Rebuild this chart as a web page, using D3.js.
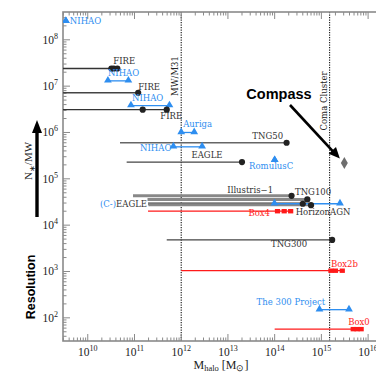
<!DOCTYPE html>
<html>
<head>
<meta charset="utf-8">
<script src="https://cdn.jsdelivr.net/npm/d3@7"></script>
<style>
  html, body { margin: 0; padding: 0; background: #fff; }
  svg { display: block; }
  .lbl { font-family: "DejaVu Serif", serif; font-size: 8.5px; }
  .tick { font-family: "Liberation Serif", serif; font-size: 11.5px; fill: #222; }
</style>
</head>
<body>
<svg id="chart" width="376" height="373"></svg>
<script>
// ---- Simulation data: halo mass [Msun] vs particles per Milky-Way halo ----

// Zoom-in suites (blue triangles; a single halo or a mass range)
const zoomIds    = ["nihao0", "nihao1", "nihao2", "nihao3", "auriga", "romulusc", "ceagle", "the300"];
const zoomNames  = ["NIHAO", "NIHAO", "NIHAO", "NIHAO", "Auriga", "RomulusC", "(C-)", "The 300 Project"];
const zoomMassLo = [3.4e9, 2.7e10, 8.4e10, 6.8e11, 1.0e12, 1.0e14, 9.9e13, 9.1e14];
const zoomMassHi = [3.4e9, 7.4e10, 5.6e11, 2.8e12, 1.9e12, 1.0e14, 2.5e15, 3.9e15];
const zoomN      = [2.5e8, 1.3e7, 3.8e6, 4.9e5, 1.0e6, 2.5e5, 2.9e4, 1.5e2];

// Cosmological boxes and FIRE haloes (line from the smallest resolved halo to the largest, dots)
const runIds    = ["fire0", "fire1", "fire2", "tng50", "eagle25", "illustris", "tng100", "eagle100", "horizon", "tng300"];
const runNames  = ["FIRE", "FIRE", "FIRE", "TNG50", "EAGLE", "Illustris\u22121", "TNG100", "EAGLE", "HorizonAGN", "TNG300"];
const runMassLo = [1.0e9, 1.0e9, 1.0e9, 4.9e10, 6.8e10, 9.3e10, 1.9e11, 1.95e11, 2.0e11, 4.9e11];
const runHaloes = [[3.2e10, 3.6e10, 4.3e10], [1.2e11], [1.5e11, 4.9e11], [1.8e14], [2.0e13],
                   [2.3e14], [5.0e14], [4.0e14], [6.0e14], [1.7e15]];
const runN      = [2.4e7, 7.2e6, 3.1e6, 6.0e5, 2.3e5, 4.3e4, 3.6e4, 2.9e4, 2.7e4, 4.8e3];

// Compass boxes (red: mass range line, squares for the most massive clusters)
const boxNames    = ["Box4", "Box2b", "Box0"];
const boxMassLo   = [1.95e11, 1.0e12, 1.0e14];
const boxClusters = [[1.15e14, 1.6e14, 2.2e14], [1.6e15, 2.0e15, 2.8e15], [4.8e15, 5.8e15, 7.1e15]];
const boxN        = [2.0e4, 1.04e3, 57];

// Compass zoom target
const compassMass = 3.1e15;
const compassN    = 2.2e5;

// Reference haloes (vertical dotted lines)
const refNames = ["MW/M31", "Coma Cluster"];
const refMass  = [1e12, 1.5e15];

// Axis decades
const xDecades = [10, 11, 12, 13, 14, 15, 16];
const yDecades = [2, 3, 4, 5, 6, 7, 8];

// ---- Layout & style ----
const plot = { left: 63, right: 391, top: 12, bottom: 341 };
const blue = "#2e8ef0", red = "#ff1a1a";

const runStyle = {
  fire0: { c: "#333", w: 1.4 }, fire1: { c: "#444", w: 1.6 }, fire2: { c: "#333", w: 1.3 },
  tng50: { c: "#666", w: 1.4 }, eagle25: { c: "#444", w: 1.2 },
  illustris: { c: "#888", w: 3 }, tng100: { c: "#888", w: 3 },
  eagle100: { c: "#777", w: 3 }, horizon: { c: "#888", w: 2 },
  tng300: { c: "#444", w: 1.2 }
};
const runLabel = {
  fire0: { dx: -4, dy: -7.3, a: "start" }, fire1: { dx: 0, dy: -5.7, a: "start" },
  fire2: { dx: -6.5, dy: 7, a: "start" }, tng50: { dx: -3.5, dy: -6.7, a: "end" },
  eagle25: { dx: -19.5, dy: -6.3, a: "end" }, illustris: { dx: -18.5, dy: -5.3, a: "end" },
  tng100: { dx: -12.3, dy: -6.8, a: "start" }, horizon: { dx: -15.3, dy: 7.7, a: "start" },
  tng300: { dx: -25, dy: 5, a: "end" }
};
const zoomLabel = {
  nihao0: { dx: 4, dy: 0.5, a: "start" }, nihao1: { dx: 0, dy: -7, a: "start" },
  nihao2: { dx: 1, dy: -7.5, a: "start" }, nihao3: { dx: -2, dy: 1.3, a: "end" },
  auriga: { dx: 2, dy: -7.5, a: "start" }, romulusc: { dx: -3.5, dy: 6.5, a: "middle" },
  the300: { dx: 5.7, dy: -7, a: "end" }
};
const boxLabel = [
  { dx: -7.5, dy: 2, a: "end" }, { dx: 0, dy: -6.7, a: "start" }, { dx: -5, dy: -7, a: "start" }
];

const svg = d3.select("#chart");
svg.append("rect").attr("width", 376).attr("height", 373).attr("fill", "#fff");

const x = d3.scaleLog().domain([Math.pow(10, 9.47), Math.pow(10, 16.49)]).range([plot.left, plot.right]);
const y = d3.scaleLog().domain([Math.pow(10, 1.5), Math.pow(10, 8.6)]).range([plot.bottom, plot.top]);

svg.append("clipPath").attr("id", "clip").append("rect")
  .attr("x", plot.left).attr("y", plot.top)
  .attr("width", plot.right - plot.left).attr("height", plot.bottom - plot.top);

const g = svg.append("g").attr("clip-path", "url(#clip)");

// Reference vertical lines
refMass.forEach(m => {
  g.append("line").attr("x1", x(m)).attr("x2", x(m)).attr("y1", plot.top).attr("y2", plot.bottom)
    .attr("stroke", "#111").attr("stroke-width", 1.1).attr("stroke-dasharray", "1.2,1.3");
});

// Ticks (log minor ticks 2..9 plus decades)
const axisCol = "#8a8a8a";
function logTicks(scale) {
  const [d0, d1] = scale.domain().map(Math.log10);
  const out = [];
  for (let e = Math.floor(d0); e <= Math.ceil(d1); e++) {
    for (let k = 1; k <= 9; k++) {
      const v = k * Math.pow(10, e);
      const lv = Math.log10(v);
      if (lv >= d0 && lv <= d1) out.push({ v, major: k === 1 });
    }
  }
  return out;
}
const ax = svg.append("g");
logTicks(x).forEach(t => {
  const len = t.major ? 7 : 3.5;
  ax.append("line").attr("x1", x(t.v)).attr("x2", x(t.v))
    .attr("y1", plot.bottom).attr("y2", plot.bottom - len).attr("stroke", axisCol).attr("stroke-width", 1);
  ax.append("line").attr("x1", x(t.v)).attr("x2", x(t.v))
    .attr("y1", plot.top).attr("y2", plot.top + len).attr("stroke", axisCol).attr("stroke-width", 1);
});
logTicks(y).forEach(t => {
  const len = t.major ? 7 : 3.5;
  ax.append("line").attr("x1", plot.left).attr("x2", plot.left + len)
    .attr("y1", y(t.v)).attr("y2", y(t.v)).attr("stroke", axisCol).attr("stroke-width", 1);
});
// Frame
ax.append("rect").attr("x", plot.left).attr("y", plot.top)
  .attr("width", plot.right - plot.left).attr("height", plot.bottom - plot.top)
  .attr("fill", "none").attr("stroke", axisCol).attr("stroke-width", 1.6);

// Tick labels
xDecades.forEach(e => {
  const t = svg.append("text").attr("class", "tick").attr("x", x(Math.pow(10, e))).attr("y", 356)
    .attr("text-anchor", "middle");
  t.append("tspan").text("10");
  t.append("tspan").attr("dy", -5).attr("font-size", "8px").text(e);
});
yDecades.forEach(e => {
  const t = svg.append("text").attr("class", "tick").attr("x", 58).attr("y", y(Math.pow(10, e)) + 4)
    .attr("text-anchor", "end");
  t.append("tspan").text("10");
  t.append("tspan").attr("dy", -5).attr("font-size", "8px").text(e);
});

// Axis titles
const xt = svg.append("text").attr("x", 221).attr("y", 369).attr("text-anchor", "middle")
  .attr("font-family", "Liberation Serif, serif").attr("font-size", "12px").attr("fill", "#222");
xt.append("tspan").text("M");
xt.append("tspan").attr("dy", 2).attr("font-size", "8.5px").text("halo");
xt.append("tspan").attr("dy", -2).text(" [M");
xt.append("tspan").attr("dy", 2).attr("font-size", "8.5px").text("\u2299");
xt.append("tspan").attr("dy", -2).text("]");

const yt = svg.append("text").attr("transform", "translate(32,161) rotate(-90)").attr("text-anchor", "middle")
  .attr("font-family", "Liberation Serif, serif").attr("font-size", "11px").attr("fill", "#222");
yt.append("tspan").text("N");
yt.append("tspan").attr("dy", 2.5).attr("font-size", "8px").text("\u2217");
yt.append("tspan").attr("dy", -2.5).text("/MW");

svg.append("text").attr("transform", "translate(35,287) rotate(-90)").attr("text-anchor", "middle")
  .attr("font-family", "Liberation Sans, Arial, sans-serif").attr("font-weight", "bold")
  .attr("font-size", "12.5px").attr("fill", "#000").text("Resolution");

// Resolution arrow
svg.append("line").attr("x1", 37).attr("x2", 37).attr("y1", 217).attr("y2", 130)
  .attr("stroke", "#000").attr("stroke-width", 3.4);
svg.append("path").attr("d", "M37,120 L42,133 L32,133 Z").attr("fill", "#000");

// Reference line labels
svg.append("text").attr("transform", `translate(${x(refMass[0]) - 3},76) rotate(-90)`).attr("text-anchor", "middle")
  .attr("class", "lbl").attr("fill", "#222").text(refNames[0]);
svg.append("text").attr("transform", `translate(${x(refMass[1]) - 3},101) rotate(-90)`).attr("text-anchor", "middle")
  .attr("class", "lbl").attr("fill", "#222").text(refNames[1]);

const marks = svg.append("g").attr("clip-path", "url(#clip)");
const tri = d3.symbol(d3.symbolTriangle, 26);

// Cosmological runs
runIds.forEach((id, i) => {
  const st = runStyle[id];
  const hi = d3.max(runHaloes[i]);
  marks.append("line").attr("x1", x(runMassLo[i])).attr("x2", x(hi))
    .attr("y1", y(runN[i])).attr("y2", y(runN[i]))
    .attr("stroke", st.c).attr("stroke-width", st.w);
});
// Compass boxes
boxNames.forEach((name, i) => {
  const hi = d3.max(boxClusters[i]);
  marks.append("line").attr("x1", x(boxMassLo[i])).attr("x2", x(hi))
    .attr("y1", y(boxN[i])).attr("y2", y(boxN[i]))
    .attr("stroke", red).attr("stroke-width", 1.3);
  boxClusters[i].forEach(m => {
    marks.append("rect").attr("x", x(m) - 2.6).attr("y", y(boxN[i]) - 2.2)
      .attr("width", 5.2).attr("height", 4.4).attr("fill", red);
  });
  const L = boxLabel[i];
  svg.append("text").attr("class", "lbl").attr("fill", red)
    .attr("x", x(boxClusters[i][0]) + L.dx).attr("y", y(boxN[i]) + L.dy)
    .attr("dominant-baseline", "middle").attr("text-anchor", L.a).text(name);
});
// Zoom suites
zoomIds.forEach((id, i) => {
  const yy = y(zoomN[i]);
  if (zoomMassHi[i] > zoomMassLo[i]) {
    marks.append("line").attr("x1", x(zoomMassLo[i])).attr("x2", x(zoomMassHi[i]))
      .attr("y1", yy).attr("y2", yy).attr("stroke", blue).attr("stroke-width", 1.3);
  }
  [zoomMassLo[i], zoomMassHi[i]].forEach(m => {
    marks.append("path").attr("d", tri).attr("transform", `translate(${x(m)},${yy - 0.5})`).attr("fill", blue);
  });
});
// Halo dots for runs
runIds.forEach((id, i) => {
  runHaloes[i].forEach(m => {
    marks.append("circle").attr("cx", x(m)).attr("cy", y(runN[i])).attr("r", 3.1).attr("fill", "#222");
  });
});

// Run labels
runIds.forEach((id, i) => {
  const hi = d3.max(runHaloes[i]);
  if (id === "eagle100") {
    const t = svg.append("text").attr("class", "lbl").attr("x", x(runMassLo[i]) - 1).attr("y", y(runN[i]))
      .attr("dominant-baseline", "middle").attr("text-anchor", "end");
    t.append("tspan").attr("fill", blue).text(zoomNames[zoomIds.indexOf("ceagle")]);
    t.append("tspan").attr("fill", "#333").text(runNames[i]);
    return;
  }
  const L = runLabel[id];
  svg.append("text").attr("class", "lbl").attr("fill", "#333")
    .attr("x", x(hi) + L.dx).attr("y", y(runN[i]) + L.dy)
    .attr("dominant-baseline", "middle").attr("text-anchor", L.a).text(runNames[i]);
});
// Zoom labels
zoomIds.forEach((id, i) => {
  const L = zoomLabel[id];
  if (!L) return;
  svg.append("text").attr("class", "lbl").attr("fill", blue)
    .attr("x", x(zoomMassLo[i]) + L.dx).attr("y", y(zoomN[i]) + L.dy)
    .attr("dominant-baseline", "middle").attr("text-anchor", L.a).text(zoomNames[i]);
});

// Compass target and annotation arrow
const cx = x(compassMass), cy = y(compassN);
svg.append("path").attr("d", d3.symbol(d3.symbolDiamond, 42)).attr("transform", `translate(${cx},${cy})`)
  .attr("fill", "#6e6e6e");
svg.append("line").attr("x1", 290).attr("y1", 105).attr("x2", cx - 10).attr("y2", cy - 10)
  .attr("stroke", "#000").attr("stroke-width", 2.6);
{
  const ang = Math.atan2(cy - 4 - 105, cx - 4 - 290);
  const tipX = cx - 4.5, tipY = cy - 4.5, L = 11, W = 5;
  const bx = tipX - L * Math.cos(ang), by = tipY - L * Math.sin(ang);
  const px = -Math.sin(ang) * W, py = Math.cos(ang) * W;
  svg.append("path").attr("d", `M${tipX},${tipY} L${bx + px},${by + py} L${bx - px},${by - py} Z`).attr("fill", "#000");
}
svg.append("text").attr("x", 279).attr("y", 99).attr("text-anchor", "middle")
  .attr("font-family", "Liberation Sans, Arial, sans-serif").attr("font-weight", "bold")
  .attr("font-size", "14.5px").attr("fill", "#000").text("Compass");
</script>
</body>
</html>
